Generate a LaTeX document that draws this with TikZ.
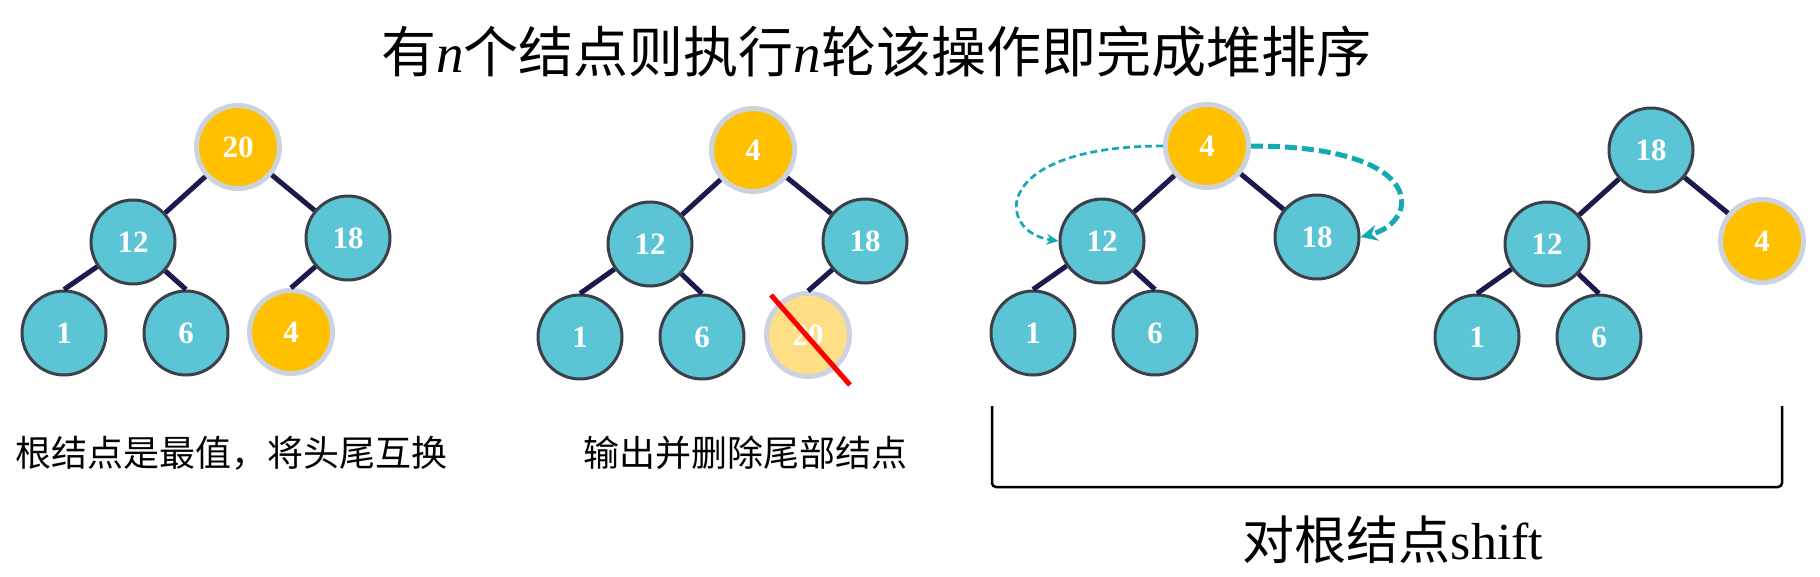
\documentclass[tikz,border=0pt]{standalone}
\usepackage{fontspec}
\setmainfont{Liberation Serif}
\newfontfamily\cjk{Noto Sans CJK SC}
\usetikzlibrary{arrows.meta}
\definecolor{teal1}{HTML}{5BC4D5}
\definecolor{tealborder}{HTML}{3C4048}
\definecolor{orange1}{HTML}{FFC000}
\definecolor{grayborder}{HTML}{CDD3DE}
\definecolor{pale1}{HTML}{FFDF85}
\definecolor{navy}{HTML}{1B1A4F}
\definecolor{arrowteal}{HTML}{13AAB6}
\begin{document}
\begin{tikzpicture}[x=1pt,y=-1pt,
  tnode/.style={circle,minimum size=84pt,inner sep=0pt,fill=teal1,draw=tealborder,line width=3pt,
    text=white,font=\fontsize{31}{31}\selectfont\bfseries},
  onode/.style={tnode,minimum size=83pt,fill=orange1,draw=grayborder,line width=5pt},
  pnode/.style={onode,fill=pale1},
  edge/.style={draw=navy,line width=5pt},
  thinarrow/.style={draw=arrowteal,line width=2.7pt,dash pattern=on 7pt off 4pt,-{Stealth[length=12pt,width=11pt]}},
  thickarrow/.style={draw=arrowteal,line width=5pt,dash pattern=on 12pt off 5pt,-{Stealth[length=17pt,width=16pt]}},
  caption/.style={font=\cjk\fontsize{36}{40}\selectfont},
  bigtext/.style={font=\cjk\fontsize{55}{60}\selectfont}
]
\useasboundingbox (0,0) rectangle (1820,576);

% title
\node[bigtext] (title) at (876,52) {有{\rmfamily\itshape n}个结点则执行{\rmfamily\itshape n}轮该操作即完成堆排序};

% tree 1
\node[onode] (a20) at (238,147) {20};
\node[tnode] (a12) at (133,242) {12};
\node[tnode] (a18) at (348,238) {18};
\node[tnode] (a1) at (64,333) {1};
\node[tnode] (a6) at (186,333) {6};
\node[onode] (a4) at (291,332) {4};
\draw[edge] (a20) -- (a12);
\draw[edge] (a20) -- (a18);
\draw[edge] (a12) -- (a1.north);
\draw[edge] (a12) -- (a6.north);
\draw[edge] (a18) -- (a4.north);
\node[caption] (cap1) at (232,453) {根结点是最值，将头尾互换};

% tree 2
\node[onode] (b4) at (753,150) {4};
\node[tnode] (b12) at (650,244) {12};
\node[tnode] (b18) at (865,241) {18};
\node[tnode] (b1) at (580,337) {1};
\node[tnode] (b6) at (702,337) {6};
\node[pnode] (b20) at (808,335) {20};
\draw[edge] (b4) -- (b12);
\draw[edge] (b4) -- (b18);
\draw[edge] (b12) -- (b1.north);
\draw[edge] (b12) -- (b6.north);
\draw[edge] (b18) -- (b20.north);
\draw[red,line width=5pt] ([shift={(-37,-40)}]b20.center) -- ([shift={(42,50)}]b20.center);
\node[caption] (cap2) at (745,453) {输出并删除尾部结点};

% tree 3
\node[onode] (c4) at (1207,146) {4};
\node[tnode] (c12) at (1102,241) {12};
\node[tnode] (c18) at (1317,237) {18};
\node[tnode] (c1) at (1033,333) {1};
\node[tnode] (c6) at (1155,333) {6};
\draw[edge] (c4) -- (c12);
\draw[edge] (c4) -- (c18);
\draw[edge] (c12) -- (c1.north);
\draw[edge] (c12) -- (c6.north);
\draw[thinarrow] (c4.west) .. controls (990,146) and (995,232) .. (c12.west);
\draw[thickarrow] (c4.east) .. controls (1430,146) and (1420,222) .. (c18.east);

% tree 4
\node[tnode] (d18) at (1651,150) {18};
\node[tnode] (d12) at (1547,244) {12};
\node[onode] (d4) at (1762,241) {4};
\node[tnode] (d1) at (1477,337) {1};
\node[tnode] (d6) at (1599,337) {6};
\draw[edge] (d18) -- (d12);
\draw[edge] (d18) -- (d4);
\draw[edge] (d12) -- (d1.north);
\draw[edge] (d12) -- (d6.north);

% bracket
\draw[line width=2.5pt,rounded corners=4pt] (992,406) -- (992,487) -- (1782,487) -- (1782,406);
\node[bigtext,font=\cjk\fontsize{52}{58}\selectfont] (shifttext) at (1393,540) {对根结点{\rmfamily shift}};
\end{tikzpicture}
\end{document}
